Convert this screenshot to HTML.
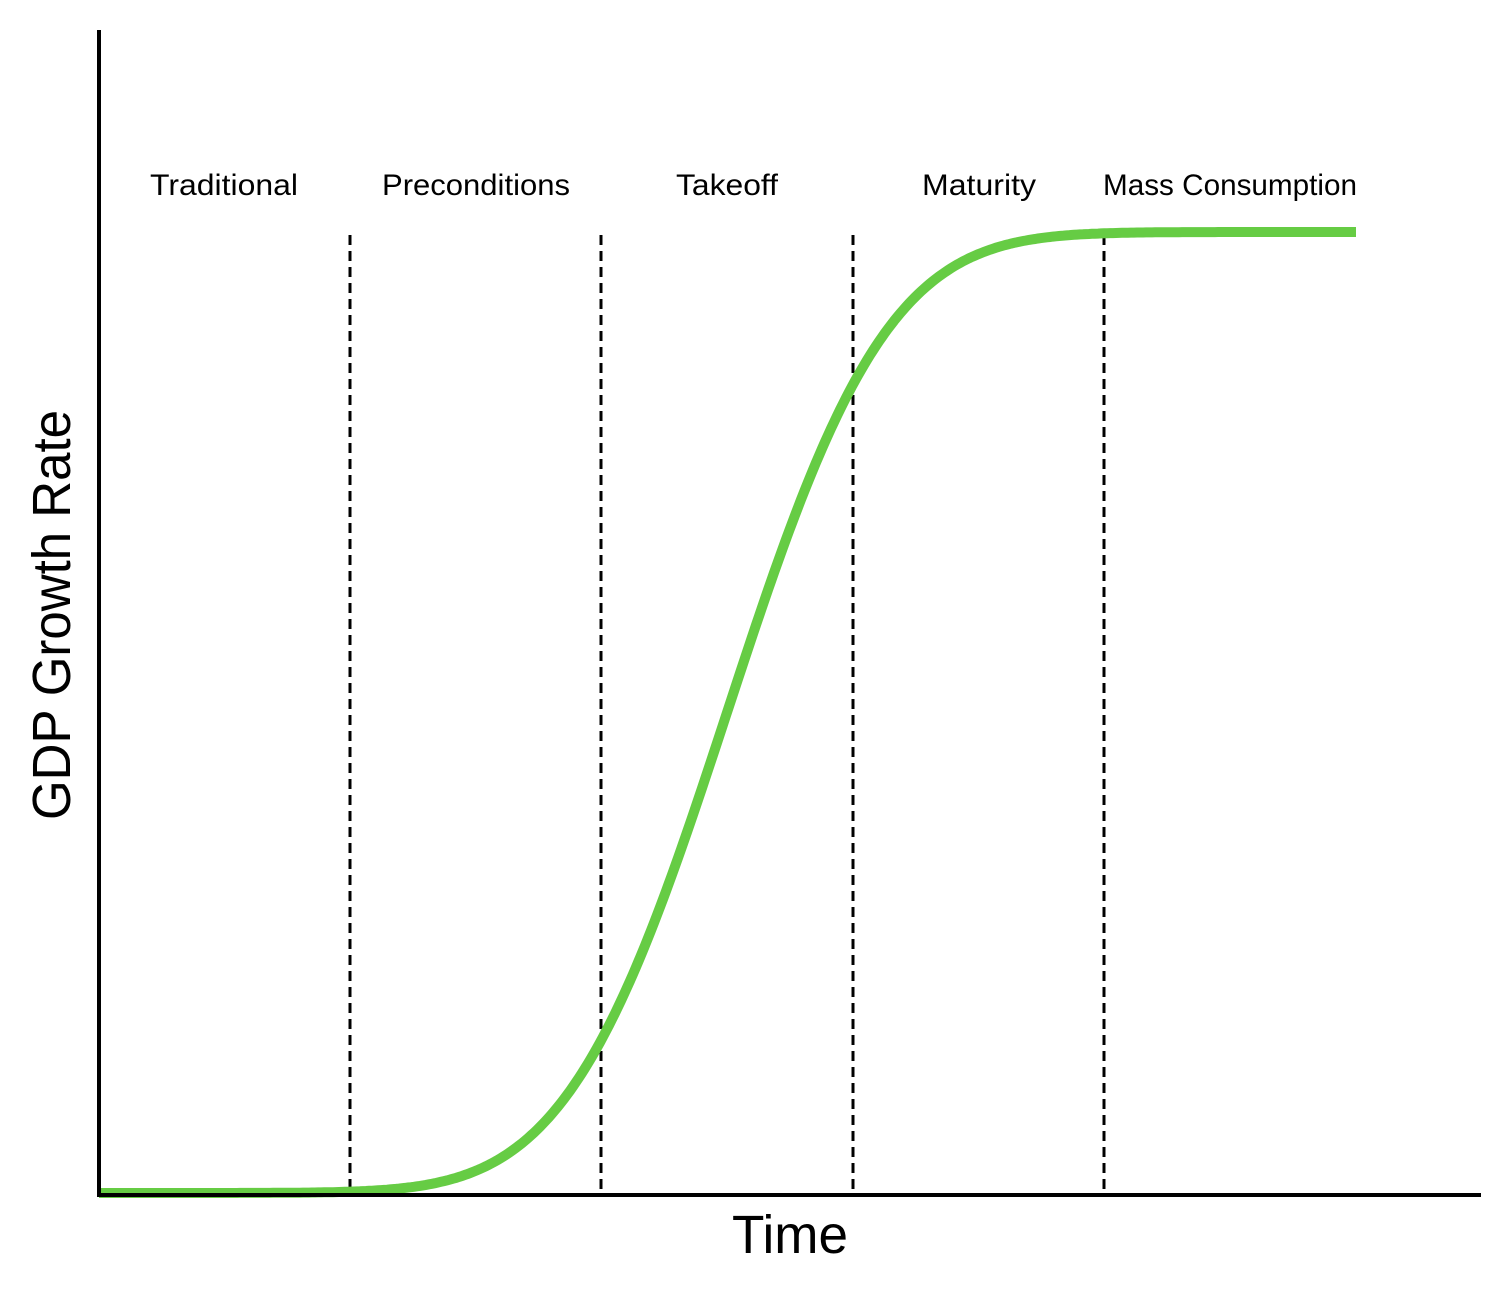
<!DOCTYPE html>
<html><head><meta charset="utf-8"><style>html,body{margin:0;padding:0;background:#fff}svg{display:block}</style></head>
<body>
<svg width="1512" height="1296" viewBox="0 0 1512 1296" xmlns="http://www.w3.org/2000/svg">
<g stroke="#000" stroke-width="3" stroke-dasharray="10,6">
<line x1="350" y1="235" x2="350" y2="1195"/>
<line x1="601" y1="235" x2="601" y2="1195"/>
<line x1="853" y1="235" x2="853" y2="1195"/>
<line x1="1104" y1="235" x2="1104" y2="1195"/>
</g>
<path id="curve" fill="none" stroke="#66cc44" stroke-width="10" d=""/>
<g stroke="#000" stroke-width="4">
<line x1="99" y1="30" x2="99" y2="1197"/>
<line x1="97" y1="1195" x2="1481" y2="1195"/>
</g>
<g font-family="Liberation Sans, sans-serif" font-size="30" fill="#000" text-anchor="middle">
<text x="224" y="195" textLength="148" lengthAdjust="spacingAndGlyphs">Traditional</text>
<text x="476" y="195" textLength="188" lengthAdjust="spacingAndGlyphs">Preconditions</text>
<text x="727" y="195" textLength="102" lengthAdjust="spacingAndGlyphs">Takeoff</text>
<text x="979" y="195" textLength="114" lengthAdjust="spacingAndGlyphs">Maturity</text>
<text x="1230" y="195" textLength="254" lengthAdjust="spacingAndGlyphs">Mass Consumption</text>
<text x="790" y="1253" font-size="54" textLength="116" lengthAdjust="spacingAndGlyphs">Time</text>
<text transform="translate(70,615) rotate(-90)" x="0" y="0" font-size="54" textLength="410" lengthAdjust="spacingAndGlyphs">GDP Growth Rate</text>
</g>
<script>
function erf(x){var s=x<0?-1:1;x=Math.abs(x);var t=1/(1+0.3275911*x);var y=1-(((((1.061405429*t-1.453152027)*t)+1.421413741)*t-0.284496736)*t+0.254829592)*t*Math.exp(-x*x);return s*y;}
var d="";for(var x=99;x<=1356;x+=3){var p=0.5*(1+erf((x-727)/(126*Math.SQRT2)));var y=1193-961*p;d+=(x==99?"M":"L")+x+","+y.toFixed(1);}
d+="L1356,232";document.getElementById("curve").setAttribute("d",d);
</script>
</svg>
</body></html>
